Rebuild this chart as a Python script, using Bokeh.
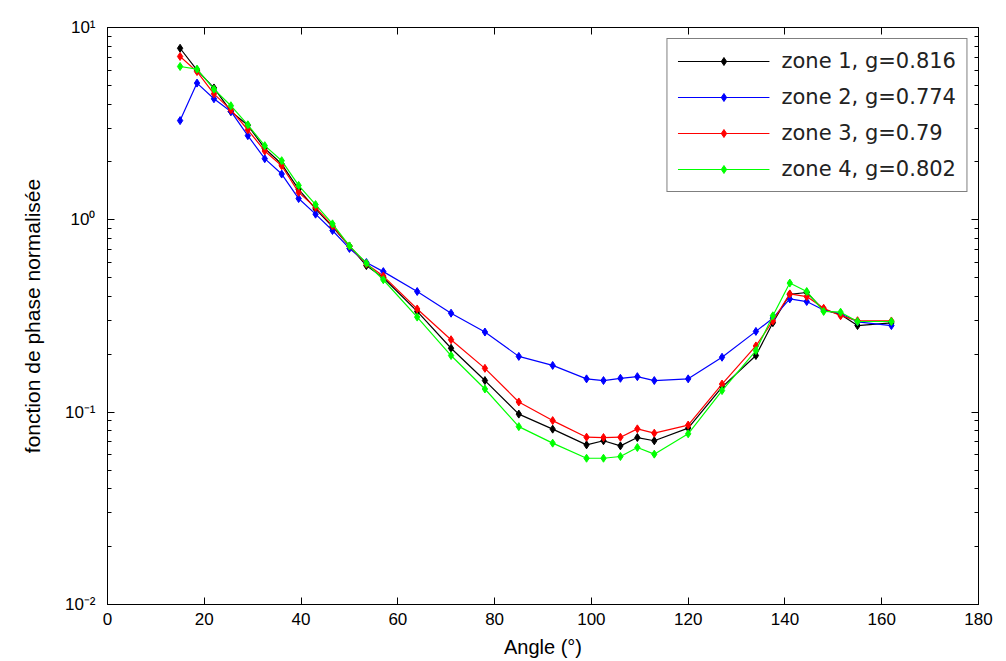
from bokeh.plotting import figure
from bokeh.models import FixedTicker, LinearAxis, LogAxis, Legend, LegendItem
from bokeh.embed import file_html
from bokeh.resources import INLINE

angles = [15, 18.5, 22, 25.5, 29, 32.5, 36, 39.5, 43, 46.5, 50, 53.5, 57, 64, 71, 78, 85, 92,
          99, 102.5, 106, 109.5, 113, 120, 127, 134, 137.5, 141, 144.5, 148, 151.5, 155, 162]

zone1 = [7.8, 6.0, 4.85, 3.66, 3.1, 2.35, 1.95, 1.44, 1.14, 0.92, 0.73, 0.578, 0.50, 0.334, 0.215,
         0.146, 0.0977, 0.0816, 0.0676, 0.071, 0.0668, 0.0738, 0.071, 0.0826, 0.135, 0.197, 0.292,
         0.41, 0.419, 0.34, 0.322, 0.282, 0.291]
zone2 = [3.28, 5.14, 4.26, 3.66, 2.74, 2.08, 1.73, 1.29, 1.07, 0.88, 0.71, 0.60, 0.538, 0.424, 0.327,
         0.261, 0.195, 0.175, 0.149, 0.146, 0.150, 0.153, 0.146, 0.149, 0.193, 0.263, 0.308, 0.388,
         0.376, 0.34, 0.325, 0.295, 0.282]
zone3 = [7.07, 5.9, 4.52, 3.73, 2.94, 2.28, 1.91, 1.39, 1.16, 0.93, 0.73, 0.59, 0.51, 0.344, 0.238,
         0.169, 0.113, 0.0904, 0.0741, 0.0738, 0.0741, 0.0819, 0.0778, 0.0857, 0.140, 0.221, 0.298,
         0.412, 0.399, 0.347, 0.317, 0.299, 0.298]
zone4 = [6.27, 6.08, 4.78, 3.92, 3.12, 2.43, 2.03, 1.51, 1.20, 0.953, 0.732, 0.595, 0.488, 0.312,
         0.197, 0.132, 0.0841, 0.069, 0.0576, 0.0576, 0.0588, 0.0655, 0.0605, 0.0772, 0.1295, 0.209,
         0.317, 0.469, 0.424, 0.334, 0.331, 0.296, 0.296]

series_labels = ["zone 1, g=0.816", "zone 2, g=0.774", "zone 3, g=0.79", "zone 4, g=0.802"]
series_colors = ["#000000", "#0000ff", "#ff0000", "#00ff00"]

x_ticks = [0, 20, 40, 60, 80, 100, 120, 140, 160, 180]
y_ticks = [0.01, 0.1, 1, 10]
y_tick_labels = ["10\u207b\u00b2", "10\u207b\u00b9", "10\u2070", "10\u00b9"]
y_minor = [m * d for d in [0.01, 0.1, 1] for m in range(2, 10)]

FONT = "Liberation Sans"

p = figure(frame_width=871, frame_height=577, x_range=(0, 180), y_range=(0.01, 10),
           y_axis_type="log", output_backend="svg", toolbar_location=None,
           min_border_left=107, min_border_right=22, min_border_top=27, min_border_bottom=54,
           background_fill_color="white", border_fill_color="white")
p.grid.visible = False
p.outline_line_color = "black"
p.outline_line_width = 1

xt = FixedTicker(ticks=x_ticks)
yt = FixedTicker(ticks=y_ticks, minor_ticks=y_minor)

def style_axis(ax, labels=True):
    ax.major_tick_in = 7
    ax.major_tick_out = 0
    ax.minor_tick_in = 4
    ax.minor_tick_out = 0
    ax.axis_line_color = "black"
    ax.major_tick_line_color = "black"
    ax.major_label_text_font = FONT
    ax.major_label_text_font_size = "17px"
    ax.major_label_text_color = "black"
    ax.axis_label_text_font = FONT
    ax.axis_label_text_font_style = "normal"
    ax.axis_label_text_font_size = "20px"
    ax.axis_label_text_color = "black"
    if not labels:
        ax.major_label_text_font_size = "1px"
        ax.major_label_text_color = None
        ax.major_label_standoff = 0

p.xaxis.ticker = xt
p.yaxis.ticker = yt
style_axis(p.xaxis[0])
style_axis(p.yaxis[0])
p.xaxis.minor_tick_line_color = None
p.xaxis.major_label_standoff = 8
p.yaxis.major_label_standoff = 12
p.yaxis.major_label_overrides = {t: lab for t, lab in zip(y_ticks, y_tick_labels)}
p.yaxis.axis_label_text_font_size = "21px"
p.xaxis.axis_label = "Angle (\u00b0)"
p.yaxis.axis_label = "fonction de phase normalisée"
p.xaxis.axis_label_standoff = 8
p.yaxis.axis_label_standoff = 18

top = LinearAxis(ticker=xt)
style_axis(top, labels=False)
top.minor_tick_line_color = None
p.add_layout(top, "above")
right = LogAxis(ticker=yt)
style_axis(right, labels=False)
p.add_layout(right, "right")

items = []
for ys, lab, col in zip([zone1, zone2, zone3, zone4], series_labels, series_colors):
    ln = p.line(angles, ys, line_color=col, line_width=1.2)
    sc = p.scatter(angles, ys, marker="diamond", size=8, fill_color=col, line_color=col)
    items.append(LegendItem(label=lab, renderers=[ln, sc]))

legend = Legend(items=items, location="top_right")
legend.margin = 11
legend.padding = 10
legend.spacing = 12
legend.glyph_width = 92
legend.glyph_height = 20
legend.label_height = 20
legend.label_standoff = 12
legend.label_text_font = "DejaVu Sans"
legend.label_text_font_size = "21px"
legend.label_text_color = "#222222"
legend.border_line_color = "black"
legend.border_line_width = 1.5
legend.background_fill_color = "white"
legend.background_fill_alpha = 1
p.add_layout(legend, "center")

open("out.html", "w").write(file_html(p, INLINE))
